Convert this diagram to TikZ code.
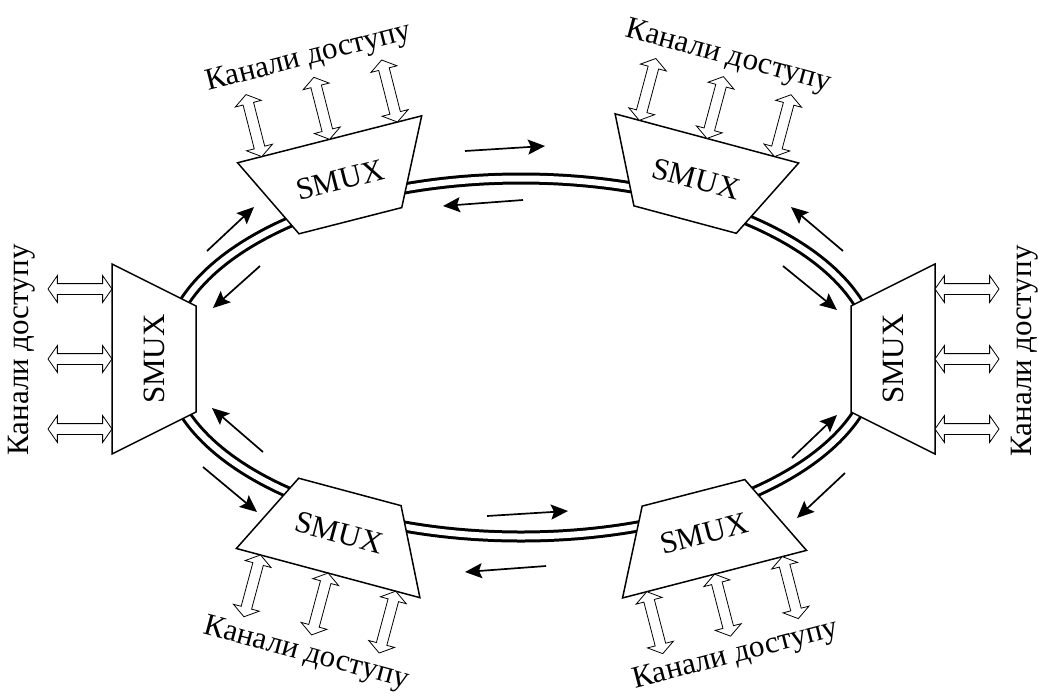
\documentclass[tikz,border=0pt]{standalone}
\usepackage{fontspec}
\setmainfont{Liberation Serif}
\usetikzlibrary{shapes, arrows.meta, positioning}
\tikzstyle{smuxBox} = [draw, line width=1.5pt, fill=white, line join=miter]
\tikzstyle{smuxText} = [inner sep=0pt, font=\fontsize{31}{31}\selectfont]
\tikzstyle{accArrow} = [draw, double arrow, double arrow head extend=8pt, double arrow tip angle=110, minimum height=64pt, inner xsep=0pt, inner ysep=5pt, line width=0.8pt, fill=white]
\tikzstyle{accLabel} = [font=\fontsize{31}{31}\selectfont]
\tikzstyle{flowArrow} = [-{Stealth[length=17pt, width=15pt, inset=3pt]}, line width=1.7pt]
\tikzstyle{ringLine} = [double, double distance=6pt, line width=3pt]
% trapezoid outlines: long side out (top) or long side out (bottom)
\newcommand{\smuxTop}{\draw [smuxBox] (-95,-42) -- (95,-42) -- (53,42) -- (-53,42) -- cycle;}
\newcommand{\smuxBot}{\draw [smuxBox] (-53,-42) -- (53,-42) -- (95,42) -- (-95,42) -- cycle;}

\begin{document}
\begin{tikzpicture}[x=1pt, y=-1pt]
        \useasboundingbox (0,0) rectangle (1038,697);
        % Ring
        \draw [ringLine] (521,357.5) ellipse [x radius=354, y radius=179];

        % Nodes
        \begin{scope}[shift={(340,180)}, rotate=14.3, transform shape]
            \smuxTop
            \node [smuxText] (smuxTL) {SMUX};
            \foreach \d [count=\i] in {-70,0,70}
                \node [accArrow, rotate=90] (accTL\i) at (\d,-74) {};
            \node [accLabel] (labTL) at (0,-126) {Канали доступу};
        \end{scope}
        \begin{scope}[shift={(696,179)}, rotate=-15, transform shape]
            \smuxTop
            \node [smuxText] (smuxTR) {SMUX};
            \foreach \d [count=\i] in {-70,0,70}
                \node [accArrow, rotate=90] (accTR\i) at (\d,-74) {};
            \node [accLabel] (labTR) at (0,-126) {Канали доступу};
        \end{scope}
        \begin{scope}[shift={(154,359)}, rotate=90, transform shape]
            \smuxTop
            \node [smuxText] (smuxL) {SMUX};
            \foreach \d [count=\i] in {-70,0,70}
                \node [accArrow, rotate=90] (accL\i) at (\d,-74) {};
            \node [accLabel] (labL) at (9,-132) {Канали доступу};
        \end{scope}
        \begin{scope}[shift={(893,359)}, rotate=90, transform shape]
            \smuxBot
            \node [smuxText] (smuxR) {SMUX};
            \foreach \d [count=\i] in {-70,0,70}
                \node [accArrow, rotate=90] (accR\i) at (\d,74) {};
            \node [accLabel] (labR) at (8,132) {Канали доступу};
        \end{scope}
        \begin{scope}[shift={(339,532.5)}, rotate=-15, transform shape]
            \smuxBot
            \node [smuxText] (smuxBL) {SMUX};
            \foreach \d [count=\i] in {-70,0,70}
                \node [accArrow, rotate=90] (accBL\i) at (\d,74) {};
            \node [accLabel] (labBL) at (0,126) {Канали доступу};
        \end{scope}
        \begin{scope}[shift={(704,533.5)}, rotate=14.5, transform shape]
            \smuxBot
            \node [smuxText] (smuxBR) {SMUX};
            \foreach \d [count=\i] in {-70,0,70}
                \node [accArrow, rotate=90] (accBR\i) at (\d,74) {};
            \node [accLabel] (labBR) at (0,126) {Канали доступу};
        \end{scope}

        % Lines
        \draw [flowArrow] (465,151) -- (545,146);
        \draw [flowArrow] (523,200) -- (443,206);
        \draw [flowArrow] (546,566) -- (465,572);
        \draw [flowArrow] (487,516) -- (568,511);
        \draw [flowArrow] (207,251) -- (254,207);
        \draw [flowArrow] (260,266) -- (213,308);
        \draw [flowArrow] (263,452) -- (212,408);
        \draw [flowArrow] (203,467) -- (257,512);
        \draw [flowArrow] (843,251) -- (791,207);
        \draw [flowArrow] (783,266) -- (837,310);
        \draw [flowArrow] (792,458) -- (837,415);
        \draw [flowArrow] (845,473) -- (797,518);
    \end{tikzpicture}
\end{document}
